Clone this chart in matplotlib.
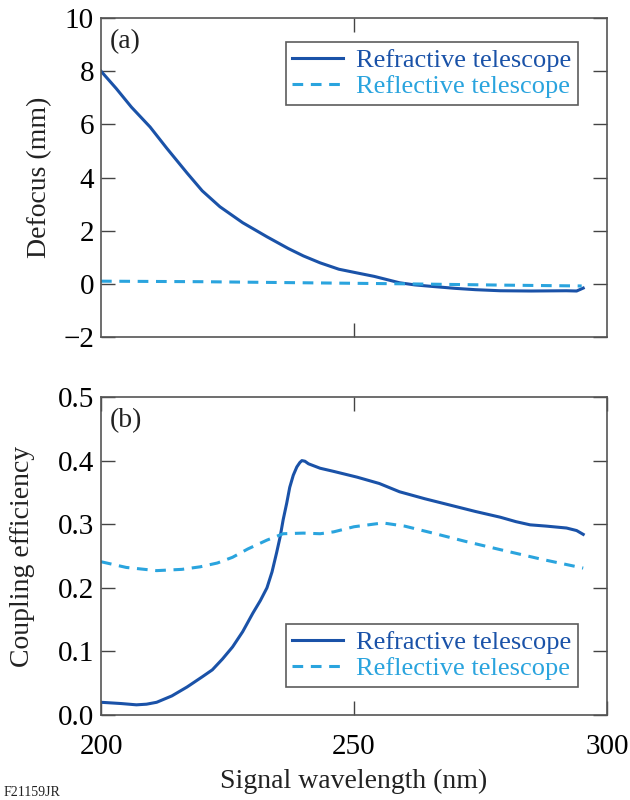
import numpy as np
import matplotlib.pyplot as plt

plt.rcParams['font.family'] = ['Liberation Serif', 'DejaVu Serif']

COR_REFR = '#1a52a8'
COR_REFL = '#2aa4de'

# Painel (a): defocus (mm)
wl_def_refr = [200, 203, 206, 209.7, 213, 217, 220, 223.5, 228, 232.8, 237, 240, 243.3,
               247, 250.6, 254, 259, 262, 265.6, 270, 274, 278.9, 285, 292, 294, 295.3]
def_refr = [8.0, 7.35, 6.65, 5.9, 5.1, 4.17, 3.5, 2.9, 2.3, 1.77, 1.33, 1.05, 0.79,
            0.55, 0.41, 0.28, 0.04, -0.04, -0.1, -0.17, -0.22, -0.26, -0.27, -0.26, -0.27, -0.16]
wl_def_refl = [200, 220, 240, 260, 280, 295]
def_refl = [0.1, 0.08, 0.04, 0.0, -0.05, -0.08]

# Painel (b): coupling efficiency
wl_ce_refr = [200, 204, 207, 209, 211, 214, 217, 220, 222, 224, 226, 228, 230, 231.5, 232.8,
              233.8, 234.7, 235.4, 236, 236.7, 237.3, 238, 238.7, 239.3, 239.7, 240.3, 241,
              243.3, 246, 250.6, 255, 259, 264, 269, 274, 278.9, 282, 284.8, 288, 292, 294, 295.3]
ce_refr = [0.02, 0.018, 0.016, 0.017, 0.02, 0.03, 0.044, 0.06, 0.071, 0.088, 0.107, 0.131, 0.16,
           0.18, 0.2, 0.225, 0.255, 0.28, 0.307, 0.333, 0.358, 0.377, 0.39, 0.397, 0.4, 0.399,
           0.395, 0.388, 0.383, 0.374, 0.364, 0.351, 0.34, 0.33, 0.32, 0.311, 0.304, 0.299,
           0.297, 0.294, 0.29, 0.284]
wl_ce_refl = [200, 205, 211, 216, 219.6, 223, 226, 229, 232.8, 236, 240, 243.3, 246,
              250, 255.7, 260, 265.6, 272, 278.9, 287, 295.3]
ce_refl = [0.241, 0.232, 0.227, 0.229, 0.233, 0.239, 0.248, 0.261, 0.275, 0.285, 0.286, 0.285, 0.288,
           0.296, 0.302, 0.297, 0.286, 0.273, 0.26, 0.245, 0.231]

fig = plt.figure(figsize=(6.3, 8.0), dpi=100)
ax1 = fig.add_axes([101/630, 1-337/800, 506/630, 319/800])
ax2 = fig.add_axes([101/630, 1-715/800, 506/630, 318/800])

ax1.plot(wl_def_refr, def_refr, color=COR_REFR, lw=2.2, label='Refractive telescope')
ax1.plot(wl_def_refl, def_refl, color=COR_REFL, lw=2.2, ls=(0, (3.5, 2.5)), label='Reflective telescope')
ax2.plot(wl_ce_refr, ce_refr, color=COR_REFR, lw=2.2, label='Refractive telescope')
ax2.plot(wl_ce_refl, ce_refl, color=COR_REFL, lw=2.2, ls=(0, (3.5, 2.5)), label='Reflective telescope')

ax1.set_xlim(200, 300)
ax1.set_ylim(-2, 10)
ax1.set_yticks([-2, 0, 2, 4, 6, 8, 10])
ax1.set_yticklabels(['\u22122', '0', '2', '4', '6', '8', '10'])
ax1.set_xticks([250])
ax1.set_xticklabels([])
ax1.set_ylabel('Defocus (mm)', fontsize=20, labelpad=8)

ax2.set_xlim(200, 300)
ax2.set_ylim(0, 0.5)
ax2.set_yticks([0, 0.1, 0.2, 0.3, 0.4, 0.5])
ax2.set_yticklabels(['0.0', '0.1', '0.2', '0.3', '0.4', '0.5'])
ax2.set_xticks([200, 250, 300])
ax2.set_xlabel('Signal wavelength (nm)', fontsize=20, labelpad=6)
ax2.set_ylabel('Coupling efficiency', fontsize=20, labelpad=16)

for ax, tag in [(ax1, '(a)'), (ax2, '(b)')]:
    ax.tick_params(direction='in', length=10, width=1, color='#444444', labelsize=21,
                   top=True, right=True, pad=5)
    ax.tick_params(axis='x', pad=14)
    for s in ax.spines.values():
        s.set_color('#555555')
        s.set_linewidth(1.2)
    ax.text(0.018, 0.965, tag, transform=ax.transAxes, fontsize=20, va='top', ha='left', color='#222222')
    ax.yaxis.label.set_color('#222222')
    ax.xaxis.label.set_color('#222222')

leg1 = ax1.legend(loc='upper right', bbox_to_anchor=(0.942, 0.925), fontsize=19, frameon=True,
                  fancybox=False, edgecolor='#333333', handlelength=1.9, handletextpad=0.5,
                  borderpad=0.25, labelspacing=0.1, borderaxespad=0)
leg2 = ax2.legend(loc='lower right', bbox_to_anchor=(0.942, 0.088), fontsize=19, frameon=True,
                  fancybox=False, edgecolor='#333333', handlelength=1.9, handletextpad=0.5,
                  borderpad=0.25, labelspacing=0.1, borderaxespad=0)
for leg in (leg1, leg2):
    leg.get_frame().set_linewidth(1.2)
    for txt, c in zip(leg.get_texts(), [COR_REFR, COR_REFL]):
        txt.set_color(c)

fig.text(0.005, 0.001, 'F21159JR', fontsize=10, va='bottom', ha='left', color='#222222')

plt.savefig('out.png', dpi=100)
plt.close()
